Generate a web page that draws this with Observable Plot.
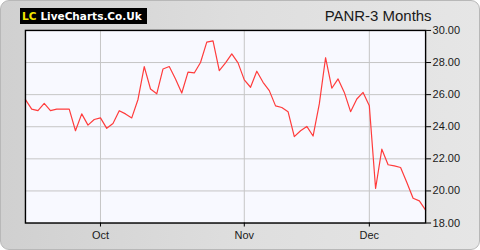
<!DOCTYPE html>
<html>
<head>
<meta charset="utf-8">
<script src="https://cdn.jsdelivr.net/npm/d3@7"></script>
<script src="https://cdn.jsdelivr.net/npm/@observablehq/plot@0.6"></script>
<style>
  html, body { margin: 0; padding: 0; background: #ffffff; }
  #wrap {
    position: relative; width: 478px; height: 248px;
    border: 1px solid #b8b8b8; border-radius: 9px;
    background: linear-gradient(to right, #d0d0d0 0%, #dedede 50%, #e6e6e6 100%);
    overflow: hidden;
  }
  #chart { position: absolute; left: -1px; top: -1px; }
  #logo {
    position: absolute; left: 19px; top: 7px; width: 127px; height: 16px;
    background: #000; font-family: "DejaVu Sans", Verdana, sans-serif; font-weight: bold;
    font-size: 10.5px; line-height: 16px; white-space: nowrap; color: #fff;
  }
  #logo .lc { color: #f2e600; margin-left: 2px; margin-right: 4px; }
</style>
</head>
<body>
<div id="wrap">
  <div id="chart"></div>
  <div id="logo"><span class="lc">LC</span>LiveCharts.Co.Uk</div>
</div>
<script>
const title = "PANR-3 Months";
const prices = [
  25.69, 25.1, 25.0, 25.45, 25.0, 25.1, 25.1, 25.1, 23.75, 24.8,
  24.1, 24.45, 24.55, 23.9, 24.2, 25.0, 24.8, 24.55, 25.7, 27.75,
  26.35, 26.05, 27.6, 27.75, 26.98, 26.1, 27.4, 27.35, 28.0, 29.27,
  29.35, 27.5, 27.98, 28.54, 27.98, 26.92, 26.46, 27.46, 26.77, 26.25,
  25.3, 25.2, 24.94, 23.38, 23.75, 24.02, 23.42, 25.42, 28.3, 26.4,
  26.98, 26.14, 24.94, 25.73, 26.14, 25.3, 20.15, 22.6, 21.63, 21.56,
  21.46, 20.52, 19.54, 19.38, 18.8
];
const monthTickIndex = [12, 35, 55];
const monthLabels = ["Oct", "Nov", "Dec"];
const yTicks = [18, 20, 22, 24, 26, 28, 30];

const chart = Plot.plot({
  width: 480,
  height: 250,
  marginLeft: 25,
  marginRight: 54,
  marginTop: 30,
  marginBottom: 27,
  style: { background: "transparent", fontFamily: "Arial, 'Liberation Sans', sans-serif", fontSize: "11px", color: "#1a1a1a" },
  x: { domain: [0, prices.length - 1] },
  y: { domain: [18, 30] },
  marks: [
    Plot.frame({ fill: "#f8f9ff" }),
    Plot.gridY(yTicks, { stroke: "#c6c6c6", strokeOpacity: 1 }),
    Plot.gridX(monthTickIndex, { stroke: "#c6c6c6", strokeOpacity: 1 }),
    Plot.lineY(prices, { x: (d, i) => i, y: d => d, stroke: "#ff3c3c", strokeWidth: 1.2 }),
    Plot.frame({ stroke: "#000", strokeWidth: 1.4 }),
    Plot.axisY(yTicks, { anchor: "right", tickSize: 5, tickPadding: 2, tickFormat: d => d.toFixed(2), stroke: "#000", strokeOpacity: 1 }),
    Plot.axisX(monthTickIndex, { anchor: "bottom", tickSize: 4, tickPadding: 4, tickFormat: d => monthLabels[monthTickIndex.indexOf(d)], stroke: "#000", strokeOpacity: 1 }),
    Plot.text([title], { frameAnchor: "top-right", textAnchor: "end", lineAnchor: "middle", dx: 6, dy: -14, fontSize: 15, fill: "#1a1a1a" })
  ]
});
document.getElementById("chart").appendChild(chart);
</script>
</body>
</html>
